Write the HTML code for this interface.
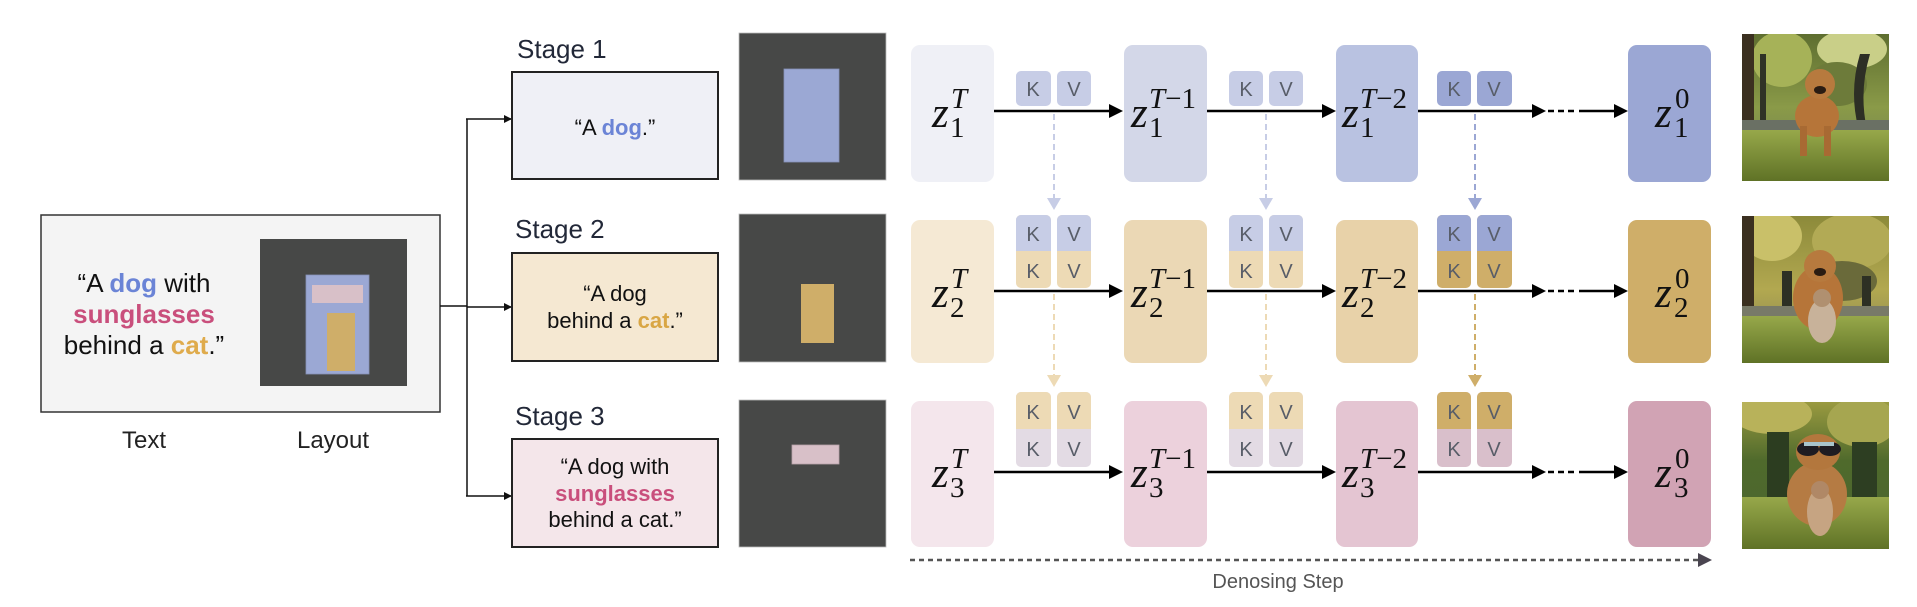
<!DOCTYPE html>
<html><head><meta charset="utf-8"><style>
html,body{margin:0;padding:0;background:#fff;}
svg{display:block;}
.sans{font-family:"Liberation Sans",Arial,sans-serif;}
.ser{font-family:"Liberation Serif","Times New Roman",serif;fill:#111;}
.kv{font-family:"Liberation Sans",Arial,sans-serif;font-size:20px;fill:#585d68;text-anchor:middle;}
</style></head><body>
<svg width="1917" height="607" viewBox="0 0 1917 607" xmlns="http://www.w3.org/2000/svg">
<defs>
<marker id="ah" markerWidth="8" markerHeight="8" refX="8" refY="4" orient="auto" markerUnits="userSpaceOnUse"><path d="M0,0 L8,4 L0,8 Z" fill="#111"/></marker>
<linearGradient id="p1sky" x1="0" y1="0" x2="0" y2="1"><stop offset="0" stop-color="#5e6e30"/><stop offset="0.5" stop-color="#8a9a48"/><stop offset="1" stop-color="#6c7a55"/></linearGradient>
<linearGradient id="p2sky" x1="0" y1="0" x2="0" y2="1"><stop offset="0" stop-color="#8c8a3a"/><stop offset="0.5" stop-color="#b2a850"/><stop offset="1" stop-color="#7d7d55"/></linearGradient>
<linearGradient id="p3sky" x1="0" y1="0" x2="0" y2="1"><stop offset="0" stop-color="#9a9a40"/><stop offset="0.4" stop-color="#4f6a2c"/><stop offset="1" stop-color="#4a6530"/></linearGradient>
<linearGradient id="grass" x1="0" y1="0" x2="0" y2="1"><stop offset="0" stop-color="#97a84a"/><stop offset="1" stop-color="#5f7226"/></linearGradient>
<clipPath id="pc"><rect x="0" y="0" width="147" height="147"/></clipPath>
</defs>

<!-- Left input box -->
<rect x="41" y="215" width="399" height="197" fill="#f4f4f4" stroke="#333" stroke-width="1.5"/>
<text class="sans" x="144" y="292" font-size="26" text-anchor="middle" fill="#111">“A <tspan font-weight="bold" fill="#6b84d6">dog</tspan> with</text>
<text class="sans" x="144" y="323" font-size="26" text-anchor="middle" font-weight="bold" fill="#c94f7c">sunglasses</text>
<text class="sans" x="144" y="354" font-size="26" text-anchor="middle" fill="#111">behind a <tspan font-weight="bold" fill="#dfab4c">cat</tspan>.”</text>
<rect x="260" y="239" width="147" height="147" fill="#474847"/>
<rect x="306" y="275" width="63" height="99" fill="#9ba8d4" stroke="#8791b8" stroke-width="0.8"/>
<rect x="312" y="285" width="51" height="18" fill="#d8c0c8"/>
<rect x="327" y="313" width="28" height="58" fill="#cfae69"/>
<text class="sans" x="144" y="448" font-size="24" text-anchor="middle" fill="#222">Text</text>
<text class="sans" x="333" y="448" font-size="24" text-anchor="middle" fill="#222">Layout</text>

<!-- connectors -->
<line x1="440" y1="306" x2="467" y2="306" stroke="#111" stroke-width="1.5"/>
<line x1="467" y1="119" x2="467" y2="496" stroke="#111" stroke-width="1.5"/>
<line x1="466" y1="119" x2="512" y2="119" stroke="#111" stroke-width="1.5" marker-end="url(#ah)"/>
<line x1="467" y1="307" x2="512" y2="307" stroke="#111" stroke-width="1.5" marker-end="url(#ah)"/>
<line x1="466" y1="496" x2="512" y2="496" stroke="#111" stroke-width="1.5" marker-end="url(#ah)"/>

<!-- stage labels -->
<text class="sans" x="517" y="58" font-size="26" fill="#222838">Stage 1</text>
<text class="sans" x="515" y="238" font-size="26" fill="#222838">Stage 2</text>
<text class="sans" x="515" y="425" font-size="26" fill="#222838">Stage 3</text>

<!-- stage boxes -->
<rect x="512" y="72" width="206" height="107" fill="#eff0f6" stroke="#222" stroke-width="2"/>
<text class="sans" x="615" y="135" font-size="22" text-anchor="middle" fill="#111">“A <tspan font-weight="bold" fill="#6b84d6">dog</tspan>.”</text>
<rect x="512" y="253" width="206" height="108" fill="#f5e8d2" stroke="#222" stroke-width="2"/>
<text class="sans" x="615" y="301" font-size="22" text-anchor="middle" fill="#111">“A dog</text>
<text class="sans" x="615" y="328" font-size="22" text-anchor="middle" fill="#111">behind a <tspan font-weight="bold" fill="#d9a644">cat</tspan>.”</text>
<rect x="512" y="439" width="206" height="108" fill="#f4e6ea" stroke="#222" stroke-width="2"/>
<text class="sans" x="615" y="474" font-size="22" text-anchor="middle" fill="#111">“A dog with</text>
<text class="sans" x="615" y="501" font-size="22" text-anchor="middle" font-weight="bold" fill="#c94f7c">sunglasses</text>
<text class="sans" x="615" y="527" font-size="22" text-anchor="middle" fill="#111">behind a cat.”</text>

<!-- layouts -->
<rect x="739" y="33" width="147" height="147" fill="#474847" stroke="#bbb" stroke-width="0.8"/>
<rect x="784" y="69" width="55" height="93" fill="#9ba8d4" stroke="#8791b8" stroke-width="0.8"/>
<rect x="739" y="214" width="147" height="148" fill="#474847" stroke="#bbb" stroke-width="0.8"/>
<rect x="801" y="284" width="33" height="59" fill="#cfae69"/>
<rect x="739" y="400" width="147" height="147" fill="#474847" stroke="#bbb" stroke-width="0.8"/>
<rect x="792" y="445" width="47" height="19" fill="#d8c0c8" stroke="#b8a2aa" stroke-width="0.8"/>

<!-- latent boxes row 1 -->
<rect x="911" y="45" width="83" height="137" rx="9" fill="#eff0f6"/>
<rect x="1124" y="45" width="83" height="137" rx="9" fill="#d3d7e8"/>
<rect x="1336" y="45" width="82" height="137" rx="9" fill="#b9c2e1"/>
<rect x="1628" y="45" width="83" height="137" rx="9" fill="#9ba7d4"/>
<!-- row 2 -->
<rect x="911" y="220" width="83" height="143" rx="9" fill="#f5e9d4"/>
<rect x="1124" y="220" width="83" height="143" rx="9" fill="#ebd8b5"/>
<rect x="1336" y="220" width="82" height="143" rx="9" fill="#e8d2a9"/>
<rect x="1628" y="220" width="83" height="143" rx="9" fill="#cfae69"/>
<!-- row 3 -->
<rect x="911" y="401" width="83" height="146" rx="9" fill="#f4e6ec"/>
<rect x="1124" y="401" width="83" height="146" rx="9" fill="#ecd1dc"/>
<rect x="1336" y="401" width="82" height="146" rx="9" fill="#e4c5d2"/>
<rect x="1628" y="401" width="83" height="146" rx="9" fill="#d1a3b4"/>

<!-- horizontal arrows -->
<g stroke="#000" stroke-width="2.5" fill="none">
<line x1="994" y1="111" x2="1110" y2="111"/><line x1="1207" y1="111" x2="1323" y2="111"/><line x1="1418" y1="111" x2="1533" y2="111"/>
<line x1="1548" y1="111" x2="1578" y2="111" stroke-dasharray="6 4"/><line x1="1579" y1="111" x2="1615" y2="111"/>
<line x1="994" y1="291" x2="1110" y2="291"/><line x1="1207" y1="291" x2="1323" y2="291"/><line x1="1418" y1="291" x2="1533" y2="291"/>
<line x1="1548" y1="291" x2="1578" y2="291" stroke-dasharray="6 4"/><line x1="1579" y1="291" x2="1615" y2="291"/>
<line x1="994" y1="472" x2="1110" y2="472"/><line x1="1207" y1="472" x2="1323" y2="472"/><line x1="1418" y1="472" x2="1533" y2="472"/>
<line x1="1548" y1="472" x2="1578" y2="472" stroke-dasharray="6 4"/><line x1="1579" y1="472" x2="1615" y2="472"/>
</g>
<g fill="#000">
<path d="M1109,104 L1123,111 L1109,118 Z"/><path d="M1322,104 L1336,111 L1322,118 Z"/><path d="M1532,104 L1546,111 L1532,118 Z"/><path d="M1614,104 L1628,111 L1614,118 Z"/>
<path d="M1109,284 L1123,291 L1109,298 Z"/><path d="M1322,284 L1336,291 L1322,298 Z"/><path d="M1532,284 L1546,291 L1532,298 Z"/><path d="M1614,284 L1628,291 L1614,298 Z"/>
<path d="M1109,465 L1123,472 L1109,479 Z"/><path d="M1322,465 L1336,472 L1322,479 Z"/><path d="M1532,465 L1546,472 L1532,479 Z"/><path d="M1614,465 L1628,472 L1614,479 Z"/>
</g>

<!-- dashed vertical arrows -->
<g stroke-width="2" stroke-dasharray="6 4" fill="none">
<line x1="1054" y1="114" x2="1054" y2="198" stroke="#c7cde6"/>
<line x1="1266" y1="114" x2="1266" y2="198" stroke="#c7cde6"/>
<line x1="1475" y1="114" x2="1475" y2="198" stroke="#9ba7d4"/>
<line x1="1054" y1="294" x2="1054" y2="375" stroke="#eddab5"/>
<line x1="1266" y1="294" x2="1266" y2="375" stroke="#eddab5"/>
<line x1="1475" y1="294" x2="1475" y2="375" stroke="#cfae69"/>
</g>
<path d="M1047,198 L1061,198 L1054,210 Z" fill="#c7cde6"/>
<path d="M1259,198 L1273,198 L1266,210 Z" fill="#c7cde6"/>
<path d="M1468,198 L1482,198 L1475,210 Z" fill="#9ba7d4"/>
<path d="M1047,375 L1061,375 L1054,387 Z" fill="#eddab5"/>
<path d="M1259,375 L1273,375 L1266,387 Z" fill="#eddab5"/>
<path d="M1468,375 L1482,375 L1475,387 Z" fill="#cfae69"/>

<!-- KV chips row 1 -->
<rect x="1016" y="71" width="35" height="35" rx="5" fill="#c7cde6"/><rect x="1057" y="71" width="34" height="35" rx="5" fill="#c7cde6"/>
<rect x="1229" y="71" width="34" height="35" rx="5" fill="#c7cde6"/><rect x="1269" y="71" width="34" height="35" rx="5" fill="#c7cde6"/>
<rect x="1437" y="71" width="34" height="35" rx="5" fill="#9ba7d4"/><rect x="1477" y="71" width="35" height="35" rx="5" fill="#9ba7d4"/>
<!-- row 2 -->
<g>
<rect x="1016" y="215" width="35" height="73" rx="5" fill="#eddab5"/><path d="M1021,215 h25 a5,5 0 0 1 5,5 v31 h-35 v-31 a5,5 0 0 1 5,-5 z" fill="#c7cde6"/>
<rect x="1057" y="215" width="34" height="73" rx="5" fill="#eddab5"/><path d="M1062,215 h24 a5,5 0 0 1 5,5 v31 h-34 v-31 a5,5 0 0 1 5,-5 z" fill="#c7cde6"/>
<rect x="1229" y="215" width="34" height="73" rx="5" fill="#eddab5"/><path d="M1234,215 h24 a5,5 0 0 1 5,5 v31 h-34 v-31 a5,5 0 0 1 5,-5 z" fill="#c7cde6"/>
<rect x="1269" y="215" width="34" height="73" rx="5" fill="#eddab5"/><path d="M1274,215 h24 a5,5 0 0 1 5,5 v31 h-34 v-31 a5,5 0 0 1 5,-5 z" fill="#c7cde6"/>
<rect x="1437" y="215" width="34" height="73" rx="5" fill="#cfae69"/><path d="M1442,215 h24 a5,5 0 0 1 5,5 v31 h-34 v-31 a5,5 0 0 1 5,-5 z" fill="#9ba7d4"/>
<rect x="1477" y="215" width="35" height="73" rx="5" fill="#cfae69"/><path d="M1482,215 h25 a5,5 0 0 1 5,5 v31 h-35 v-31 a5,5 0 0 1 5,-5 z" fill="#9ba7d4"/>
</g>
<!-- row 3 -->
<g>
<rect x="1016" y="392" width="35" height="75" rx="5" fill="#e3dbe4"/><path d="M1021,392 h25 a5,5 0 0 1 5,5 v32 h-35 v-32 a5,5 0 0 1 5,-5 z" fill="#eddab5"/>
<rect x="1057" y="392" width="34" height="75" rx="5" fill="#e3dbe4"/><path d="M1062,392 h24 a5,5 0 0 1 5,5 v32 h-34 v-32 a5,5 0 0 1 5,-5 z" fill="#eddab5"/>
<rect x="1229" y="392" width="34" height="75" rx="5" fill="#e3dbe4"/><path d="M1234,392 h24 a5,5 0 0 1 5,5 v32 h-34 v-32 a5,5 0 0 1 5,-5 z" fill="#eddab5"/>
<rect x="1269" y="392" width="34" height="75" rx="5" fill="#e3dbe4"/><path d="M1274,392 h24 a5,5 0 0 1 5,5 v32 h-34 v-32 a5,5 0 0 1 5,-5 z" fill="#eddab5"/>
<rect x="1437" y="392" width="34" height="75" rx="5" fill="#d9bfcb"/><path d="M1442,392 h24 a5,5 0 0 1 5,5 v32 h-34 v-32 a5,5 0 0 1 5,-5 z" fill="#cfae69"/>
<rect x="1477" y="392" width="35" height="75" rx="5" fill="#d9bfcb"/><path d="M1482,392 h25 a5,5 0 0 1 5,5 v32 h-35 v-32 a5,5 0 0 1 5,-5 z" fill="#cfae69"/>
</g>
<!-- KV labels -->
<g class="kv">
<text x="1033" y="96">K</text><text x="1074" y="96">V</text><text x="1246" y="96">K</text><text x="1286" y="96">V</text><text x="1454" y="96">K</text><text x="1494" y="96">V</text>
<text x="1033" y="241">K</text><text x="1074" y="241">V</text><text x="1246" y="241">K</text><text x="1286" y="241">V</text><text x="1454" y="241">K</text><text x="1494" y="241">V</text>
<text x="1033" y="278">K</text><text x="1074" y="278">V</text><text x="1246" y="278">K</text><text x="1286" y="278">V</text><text x="1454" y="278">K</text><text x="1494" y="278">V</text>
<text x="1033" y="419">K</text><text x="1074" y="419">V</text><text x="1246" y="419">K</text><text x="1286" y="419">V</text><text x="1454" y="419">K</text><text x="1494" y="419">V</text>
<text x="1033" y="456">K</text><text x="1074" y="456">V</text><text x="1246" y="456">K</text><text x="1286" y="456">V</text><text x="1454" y="456">K</text><text x="1494" y="456">V</text>
</g>

<!-- math labels -->
<g class="ser">
<text x="932" y="127" font-size="43" font-style="italic">z</text><text x="951" y="108" font-size="29" font-style="italic">T</text><text x="950" y="137" font-size="29">1</text>
<text x="1131" y="127" font-size="43" font-style="italic">z</text><text x="1149" y="108" font-size="29"><tspan font-style="italic">T</tspan>−1</text><text x="1149" y="137" font-size="29">1</text>
<text x="1342" y="127" font-size="43" font-style="italic">z</text><text x="1360" y="108" font-size="29"><tspan font-style="italic">T</tspan>−2</text><text x="1360" y="137" font-size="29">1</text>
<text x="1655" y="127" font-size="43" font-style="italic">z</text><text x="1675" y="108" font-size="29">0</text><text x="1674" y="137" font-size="29">1</text>
<text x="932" y="307" font-size="43" font-style="italic">z</text><text x="951" y="288" font-size="29" font-style="italic">T</text><text x="950" y="317" font-size="29">2</text>
<text x="1131" y="307" font-size="43" font-style="italic">z</text><text x="1149" y="288" font-size="29"><tspan font-style="italic">T</tspan>−1</text><text x="1149" y="317" font-size="29">2</text>
<text x="1342" y="307" font-size="43" font-style="italic">z</text><text x="1360" y="288" font-size="29"><tspan font-style="italic">T</tspan>−2</text><text x="1360" y="317" font-size="29">2</text>
<text x="1655" y="307" font-size="43" font-style="italic">z</text><text x="1675" y="288" font-size="29">0</text><text x="1674" y="317" font-size="29">2</text>
<text x="932" y="487" font-size="43" font-style="italic">z</text><text x="951" y="468" font-size="29" font-style="italic">T</text><text x="950" y="497" font-size="29">3</text>
<text x="1131" y="487" font-size="43" font-style="italic">z</text><text x="1149" y="468" font-size="29"><tspan font-style="italic">T</tspan>−1</text><text x="1149" y="497" font-size="29">3</text>
<text x="1342" y="487" font-size="43" font-style="italic">z</text><text x="1360" y="468" font-size="29"><tspan font-style="italic">T</tspan>−2</text><text x="1360" y="497" font-size="29">3</text>
<text x="1655" y="487" font-size="43" font-style="italic">z</text><text x="1675" y="468" font-size="29">0</text><text x="1674" y="497" font-size="29">3</text>
</g>

<!-- denoising step -->
<line x1="910" y1="560" x2="1698" y2="560" stroke="#555" stroke-width="2.5" stroke-dasharray="5 4"/>
<path d="M1698,553 L1712,560 L1698,567 Z" fill="#4a4550"/>
<text class="sans" x="1278" y="588" font-size="20" text-anchor="middle" fill="#555">Denosing Step</text>

<!-- photo 1 -->
<g transform="translate(1742,34)"><g clip-path="url(#pc)">
<rect width="147" height="147" fill="url(#p1sky)"/>
<ellipse cx="40" cy="25" rx="30" ry="28" fill="#a6b258"/>
<ellipse cx="110" cy="15" rx="35" ry="20" fill="#c9cf88"/>
<ellipse cx="95" cy="50" rx="30" ry="22" fill="#6d7b3a"/>
<rect x="0" y="0" width="12" height="110" fill="#3b3020"/>
<rect x="18" y="20" width="6" height="80" fill="#2f3326"/>
<path d="M118,20 q-12,40 0,80 l8,0 q-10,-40 2,-80z" fill="#2d2f25"/>
<rect x="0" y="86" width="147" height="14" fill="#6a7064"/>
<rect x="0" y="96" width="147" height="51" fill="url(#grass)"/>
<ellipse cx="75" cy="82" rx="22" ry="21" fill="#b67539"/>
<ellipse cx="78" cy="50" rx="15" ry="15" fill="#b77a3e"/>
<ellipse cx="78" cy="56" rx="6" ry="4" fill="#2a1c12"/>
<rect x="58" y="92" width="7" height="30" fill="#a86a33"/><rect x="82" y="92" width="7" height="30" fill="#a86a33"/>
</g></g>
<!-- photo 2 -->
<g transform="translate(1742,216)"><g clip-path="url(#pc)">
<rect width="147" height="147" fill="url(#p2sky)"/>
<ellipse cx="30" cy="20" rx="30" ry="25" fill="#c9c069"/>
<ellipse cx="110" cy="25" rx="40" ry="28" fill="#b2aa55"/>
<ellipse cx="100" cy="65" rx="35" ry="20" fill="#6a6a3a"/>
<rect x="0" y="0" width="12" height="115" fill="#3b3020"/>
<rect x="40" y="55" width="10" height="45" fill="#2d3024"/>
<rect x="120" y="60" width="9" height="40" fill="#2d3024"/>
<rect x="0" y="90" width="147" height="12" fill="#787a68"/>
<rect x="0" y="100" width="147" height="47" fill="url(#grass)"/>
<ellipse cx="76" cy="82" rx="25" ry="32" fill="#b67539"/>
<ellipse cx="78" cy="50" rx="16" ry="16" fill="#b77a3e"/>
<ellipse cx="78" cy="56" rx="6" ry="4" fill="#2a1c12"/>
<ellipse cx="80" cy="105" rx="14" ry="22" fill="#c8b29a"/>
<ellipse cx="80" cy="82" rx="9" ry="9" fill="#b09070"/>
</g></g>
<!-- photo 3 -->
<g transform="translate(1742,402)"><g clip-path="url(#pc)">
<rect width="147" height="147" fill="url(#p3sky)"/>
<ellipse cx="30" cy="12" rx="40" ry="20" fill="#b8b25a"/>
<ellipse cx="120" cy="20" rx="35" ry="25" fill="#a6a650"/>
<rect x="25" y="30" width="22" height="85" fill="#2c3d20"/>
<rect x="110" y="40" width="25" height="75" fill="#2d3e22"/>
<rect x="0" y="95" width="147" height="52" fill="url(#grass)"/>
<ellipse cx="75" cy="92" rx="30" ry="32" fill="#b57b43"/>
<ellipse cx="76" cy="50" rx="22" ry="18" fill="#b3773d"/>
<ellipse cx="66" cy="47" rx="11" ry="7" fill="#1e1c22"/>
<ellipse cx="88" cy="47" rx="11" ry="7" fill="#1e1c22"/>
<rect x="62" y="40" width="30" height="4" fill="#a8c4cc"/>
<ellipse cx="78" cy="110" rx="13" ry="24" fill="#c6a482"/>
<ellipse cx="78" cy="88" rx="9" ry="9" fill="#b08866"/>
</g></g>
</svg>
</body></html>
